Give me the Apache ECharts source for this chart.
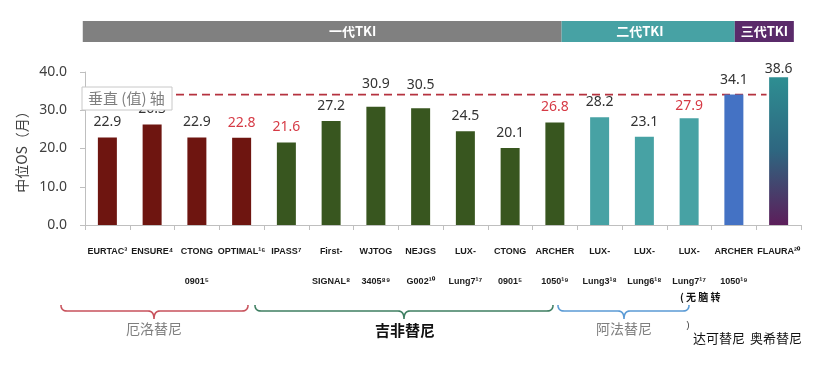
<!DOCTYPE html>
<html><head><meta charset="utf-8">
<script src="https://cdn.jsdelivr.net/npm/echarts@6/dist/echarts.min.js"></script>
<style>html,body{margin:0;padding:0;background:#fff}#c{width:818px;height:366px}</style>
</head><body><div id="c"></div>
<script>
// ---- data ----
const categories = ['EURTAC³','ENSURE⁴','CTONG\n0901⁵','OPTIMAL¹⁶','IPASS⁷','First-\nSIGNAL⁸','WJTOG\n3405⁸⁹','NEJGS\nG002¹⁰','LUX-\nLung7¹⁷','CTONG\n0901⁵','ARCHER\n1050¹⁹','LUX-\nLung3¹⁸','LUX-\nLung6¹⁸','LUX-\nLung7¹⁷','ARCHER\n1050¹⁹','FLAURA²⁰'];
const osValues = [22.9, 26.3, 22.9, 22.8, 21.6, 27.2, 30.9, 30.5, 24.5, 20.1, 26.8, 28.2, 23.1, 27.9, 34.1, 38.6];
const drugGroup = ['erl','erl','erl','erl','gef','gef','gef','gef','gef','gef','gef','afa','afa','afa','dac','osi'];
const redLabel = [false,false,false,true,true,false,false,false,false,false,true,false,false,true,false,false];
const refLineValue = 34.1;
const yTicks = [0, 10, 20, 30, 40];
const headers = [
  {name:'一代TKI', from:-0.05, to:10.65, textAt:5.98, color:'#808080'},
  {name:'二代TKI', from:10.65, to:14.52, textAt:12.4, color:'#47A2A4'},
  {name:'三代TKI', from:14.52, to:15.84, textAt:15.18, color:'#5A2A6A'}
];
const drugNames = {erl:'厄洛替尼', gef:'吉非替尼', afa:'阿法替尼', dac:'达可替尼', osi:'奥希替尼'};

// ---- styles ----
const W = 818, H = 366;
const gridLeft = 85, gridRight = 17, gridTop = 72, gridBottom = 141;
const catW = (W - gridLeft - gridRight) / categories.length;
const colors = {
  erl:'#6E1510', gef:'#38561F', afa:'#47A2A4', dac:'#4472C4',
  osi:{type:'linear',x:0,y:0,x2:0,y2:1,colorStops:[{offset:0,color:'#2E8E92'},{offset:0.5,color:'#2E6680'},{offset:1,color:'#5C1E5A'}]}
};
const labelDist = {6:16, 7:16, 13:5, 15:1};
const xOf = v => gridLeft + v * catW;

const barData = osValues.map((v, i) => ({
  value: v,
  itemStyle: {color: colors[drugGroup[i]]},
  label: {color: redLabel[i] ? '#D63A45' : '#333333', distance: labelDist[i] != null ? labelDist[i] : 8}
}));

function quad(p0, p1, p2, n) {
  const pts = [];
  for (let k = 0; k <= n; k++) {
    const t = k / n, a = (1-t)*(1-t), b = 2*(1-t)*t, c = t*t;
    pts.push([a*p0[0]+b*p1[0]+c*p2[0], a*p0[1]+b*p1[1]+c*p2[1]]);
  }
  return pts;
}
function brace(x0, x1, xc, color) {
  const y0 = 305, y1 = 311, y2 = 319;
  let pts = [];
  pts = pts.concat(quad([x0,y0],[x0,y1],[x0+6,y1],8));
  pts = pts.concat(quad([xc-6,y1],[xc,y1],[xc,y2],8));
  pts = pts.concat(quad([xc,y2],[xc,y1],[xc+6,y1],8));
  pts = pts.concat(quad([x1-6,y1],[x1,y1],[x1,y0],8));
  return {type:'polyline', z:10, shape:{points:pts}, style:{fill:null, stroke:color, lineWidth:1.6}};
}

const graphics = [];
headers.forEach(h => {
  graphics.push({type:'rect', shape:{x:xOf(h.from), y:21, width:xOf(h.to)-xOf(h.from), height:21}, style:{fill:h.color}});
  graphics.push({type:'text', x:xOf(h.textAt), y:31.5, style:{text:h.name, fill:'#fff', font:'bold 13px "Noto Sans CJK SC", sans-serif', textAlign:'center', textVerticalAlign:'middle'}});
});
graphics.push(brace(61, 248, 154, '#C8525C'));
graphics.push(brace(255, 553, 404, '#3F7F62'));
graphics.push(brace(558, 689, 624, '#5B9BD5'));
graphics.push({type:'text', x:154, y:329, style:{text:drugNames.erl, fill:'#7F7F7F', font:'14px "Noto Sans CJK SC", sans-serif', textAlign:'center', textVerticalAlign:'middle'}});
graphics.push({type:'text', x:405, y:330, style:{text:drugNames.gef, fill:'#111', font:'bold 15px "Noto Sans CJK SC", sans-serif', textAlign:'center', textVerticalAlign:'middle'}});
graphics.push({type:'text', x:624, y:329, style:{text:drugNames.afa, fill:'#7F7F7F', font:'14px "Noto Sans CJK SC", sans-serif', textAlign:'center', textVerticalAlign:'middle'}});
graphics.push({type:'text', x:688, y:326, style:{text:')', fill:'#333', font:'9px sans-serif', textAlign:'center', textVerticalAlign:'middle'}});
graphics.push({type:'text', x:719, y:338, style:{text:drugNames.dac, fill:'#111', font:'13px "Noto Sans CJK SC", sans-serif', textAlign:'center', textVerticalAlign:'middle'}});
graphics.push({type:'text', x:776, y:338, style:{text:drugNames.osi, fill:'#111', font:'13px "Noto Sans CJK SC", sans-serif', textAlign:'center', textVerticalAlign:'middle'}});
graphics.push({type:'text', x:680, y:297, style:{text:'( 无 脑 转', fill:'#111', font:'bold 10px "Noto Sans CJK SC", sans-serif', textAlign:'left', textVerticalAlign:'middle'}});
// tooltip-like box seen in the reference (drawn on its own layer above the chart)
graphics.push({type:'rect', zlevel:5, z:100, shape:{x:82, y:87, width:90, height:23}, style:{fill:'#ffffff', stroke:'#C8C8C8', lineWidth:1}});
graphics.push({type:'text', zlevel:5, z:101, x:88, y:98.5, style:{text:'垂直 (值) 轴', fill:'#7F7F7F', font:'15px "Noto Sans CJK SC", sans-serif', textVerticalAlign:'middle'}});

const chart = echarts.init(document.getElementById('c'), null, {renderer:'canvas'});
chart.setOption({
  animation:false,
  backgroundColor:'#fff',
  grid:{left:gridLeft, right:gridRight, top:gridTop, bottom:gridBottom},
  xAxis:[{
    type:'category', data:categories,
    axisLine:{lineStyle:{color:'#BFBFBF', width:1}},
    axisTick:{show:true, length:5, lineStyle:{color:'#BFBFBF'}, alignWithLabel:false},
    axisLabel:{interval:0, hideOverlap:false, margin:12, fontSize:9, fontWeight:'bold', lineHeight:30, color:'#1a1a1a', fontFamily:'"Liberation Sans", Arial, sans-serif'}
  },{
    type:'value', min:0, max:categories.length, show:false
  }],
  yAxis:{
    type:'value', min:yTicks[0], max:yTicks[yTicks.length-1], interval:10,
    name:'中位OS（月）', nameLocation:'middle', nameGap:55, nameRotate:90,
    nameTextStyle:{fontSize:14, color:'#404040', fontFamily:'"Noto Sans CJK SC", sans-serif'},
    axisLine:{show:true, lineStyle:{color:'#BFBFBF'}},
    axisTick:{show:true, length:5, lineStyle:{color:'#BFBFBF'}},
    splitLine:{show:false},
    axisLabel:{margin:18, fontSize:14, color:'#404040', fontFamily:'"Noto Sans", sans-serif', formatter:v => v.toFixed(1)}
  },
  series:[{
    type:'line', xAxisIndex:1, z:1,
    data:[[0, refLineValue],[15.23, refLineValue]],
    symbol:'none', silent:true,
    lineStyle:{color:'#B5323F', width:1.8, type:[8,5]}
  },{
    type:'bar', data:barData, barWidth:19, z:2,
    label:{show:true, position:'top', fontSize:14, fontFamily:'"Noto Sans", sans-serif', formatter:p => p.value.toFixed(1)}
  }],
  graphic:graphics
});
</script></body></html>
